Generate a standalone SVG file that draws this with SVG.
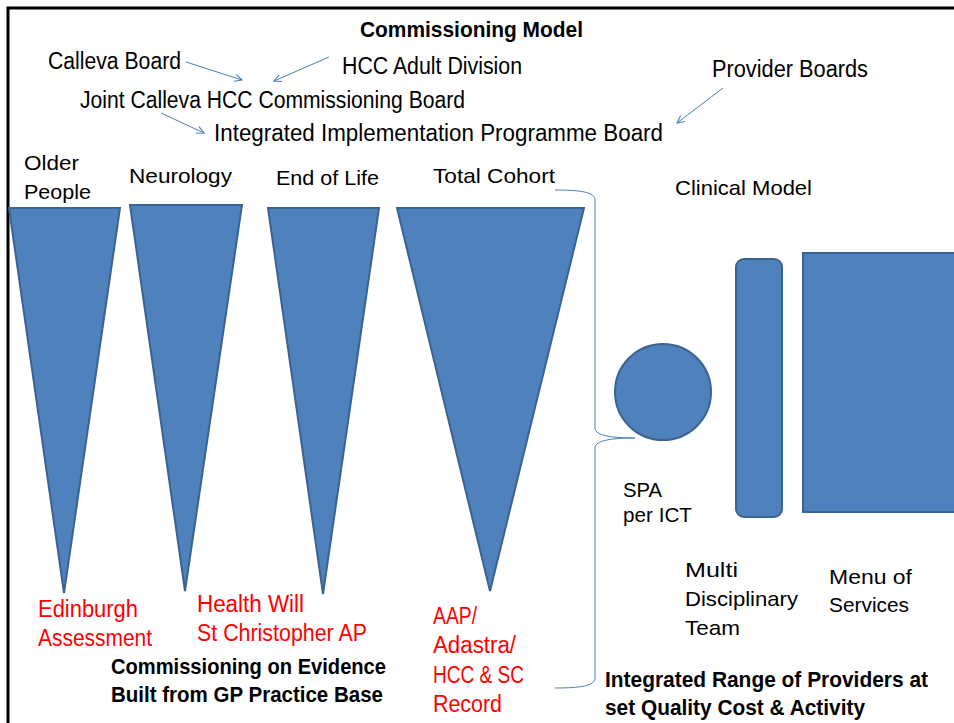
<svg xmlns="http://www.w3.org/2000/svg" width="954" height="723" viewBox="0 0 954 723">
  <style>
    .shape { fill: #4f81bd; stroke: #3a6391; stroke-width: 2; }
    .txt { font-family: "Liberation Sans", Arial, sans-serif; font-size: 21px; fill: #000; }
    .cond { font-family: "Liberation Sans", Arial, sans-serif; font-size: 23px; fill: #000; }
    .red { font-family: "Liberation Sans", Arial, sans-serif; font-size: 23px; fill: #ff0000; }
    .bold { font-family: "Liberation Sans", Arial, sans-serif; font-size: 22px; font-weight: bold; fill: #000; }
    .link { fill: none; stroke: #4a7ebb; stroke-width: 1; }
  </style>
  <defs>
    <marker id="arrow" viewBox="0 0 10 10" refX="9" refY="5" markerWidth="9" markerHeight="9" markerUnits="userSpaceOnUse" orient="auto">
      <path d="M1,1 L9,5 L1,9" fill="none" stroke="#4a7ebb" stroke-width="1.2"/>
    </marker>
  </defs>

  <rect width="954" height="723" fill="#fff"/>
  <!-- frame -->
  <rect x="8" y="8" width="1000" height="800" fill="none" stroke="#000" stroke-width="3"/>

  <!-- governance titles -->
  <g id="title">
    <text class="bold" x="360" y="37" textLength="223" lengthAdjust="spacingAndGlyphs">Commissioning Model</text>
  </g>
  <g id="calleva-board">
    <text class="cond" x="48" y="69" textLength="133" lengthAdjust="spacingAndGlyphs">Calleva Board</text>
  </g>
  <g id="hcc-adult-division">
    <text class="cond" x="342" y="74" textLength="180" lengthAdjust="spacingAndGlyphs">HCC Adult Division</text>
  </g>
  <g id="provider-boards">
    <text class="cond" x="712" y="77" textLength="156" lengthAdjust="spacingAndGlyphs">Provider Boards</text>
  </g>
  <g id="joint-board">
    <text class="cond" x="80" y="108" textLength="385" lengthAdjust="spacingAndGlyphs">Joint Calleva HCC Commissioning Board</text>
  </g>
  <g id="implementation-board">
    <text class="cond" x="214" y="141" textLength="449" lengthAdjust="spacingAndGlyphs">Integrated Implementation Programme Board</text>
  </g>

  <!-- cohort funnels -->
  <g id="older-people">
    <text class="txt" x="24" y="170" textLength="55" lengthAdjust="spacingAndGlyphs">Older</text>
    <text class="txt" x="24" y="199" textLength="67" lengthAdjust="spacingAndGlyphs">People</text>
    <polygon class="shape" points="9,208 120,208 64,593"/>
    <text class="red" x="38" y="617" textLength="100" lengthAdjust="spacingAndGlyphs">Edinburgh</text>
    <text class="red" x="38" y="646" textLength="114" lengthAdjust="spacingAndGlyphs">Assessment</text>
  </g>
  <g id="neurology">
    <text class="txt" x="129" y="183" textLength="103" lengthAdjust="spacingAndGlyphs">Neurology</text>
    <polygon class="shape" points="130,205 242,205 185,591"/>
    <text class="red" x="197" y="612" textLength="107" lengthAdjust="spacingAndGlyphs">Health Will</text>
    <text class="red" x="197" y="641" textLength="170" lengthAdjust="spacingAndGlyphs">St Christopher AP</text>
  </g>
  <g id="end-of-life">
    <text class="txt" x="276" y="185" textLength="103" lengthAdjust="spacingAndGlyphs">End of Life</text>
    <polygon class="shape" points="268,208 379,208 323,594"/>
  </g>
  <g id="total-cohort">
    <text class="txt" x="433" y="183" textLength="122" lengthAdjust="spacingAndGlyphs">Total Cohort</text>
    <polygon class="shape" points="397,208 584,208 490,591"/>
    <text class="red" x="433" y="624" textLength="44" lengthAdjust="spacingAndGlyphs">AAP/</text>
    <text class="red" x="433" y="653" textLength="83" lengthAdjust="spacingAndGlyphs">Adastra/</text>
    <text class="red" x="433" y="683" textLength="91" lengthAdjust="spacingAndGlyphs">HCC &amp; SC</text>
    <text class="red" x="433" y="712" textLength="69" lengthAdjust="spacingAndGlyphs">Record</text>
  </g>
  <g id="evidence-note">
    <text class="bold" x="111" y="674" textLength="275" lengthAdjust="spacingAndGlyphs">Commissioning on Evidence</text>
    <text class="bold" x="111" y="702" textLength="272" lengthAdjust="spacingAndGlyphs">Built from GP Practice Base</text>
  </g>

  <!-- clinical model -->
  <g id="clinical-model">
    <text class="txt" x="675" y="195" textLength="137" lengthAdjust="spacingAndGlyphs">Clinical Model</text>
  </g>
  <g id="spa">
    <circle class="shape" cx="663" cy="392" r="48"/>
    <text class="txt" x="623" y="497" textLength="39" lengthAdjust="spacingAndGlyphs">SPA</text>
    <text class="txt" x="623" y="522" textLength="69" lengthAdjust="spacingAndGlyphs">per ICT</text>
  </g>
  <g id="mdt">
    <rect class="shape" x="736" y="259" width="46" height="258" rx="8"/>
    <text class="txt" x="685" y="577" textLength="53" lengthAdjust="spacingAndGlyphs">Multi</text>
    <text class="txt" x="685" y="606" textLength="113" lengthAdjust="spacingAndGlyphs">Disciplinary</text>
    <text class="txt" x="685" y="635" textLength="55" lengthAdjust="spacingAndGlyphs">Team</text>
  </g>
  <g id="menu-of-services">
    <rect class="shape" x="803" y="253" width="160" height="259"/>
    <text class="txt" x="829" y="584" textLength="83" lengthAdjust="spacingAndGlyphs">Menu of</text>
    <text class="txt" x="829" y="612" textLength="80" lengthAdjust="spacingAndGlyphs">Services</text>
  </g>
  <g id="providers-note">
    <text class="bold" x="605" y="687" textLength="323" lengthAdjust="spacingAndGlyphs">Integrated Range of Providers at</text>
    <text class="bold" x="605" y="715" textLength="260" lengthAdjust="spacingAndGlyphs">set Quality Cost &amp; Activity</text>
  </g>

  <!-- connectors -->
  <g id="connectors">
    <line class="link" x1="186" y1="62" x2="242" y2="80" marker-end="url(#arrow)"/>
    <line class="link" x1="329" y1="57" x2="274" y2="81" marker-end="url(#arrow)"/>
    <line class="link" x1="161" y1="113" x2="204" y2="133" marker-end="url(#arrow)"/>
    <line class="link" x1="723" y1="88" x2="677" y2="123" marker-end="url(#arrow)"/>
    <path class="link" d="M555,190 C580,190 595,192 595,200 L595,428 C595,434 605,438 635,438 C605,438 595,442 595,448 L595,678 C595,686 580,688 555,688"/>
  </g>
</svg>
